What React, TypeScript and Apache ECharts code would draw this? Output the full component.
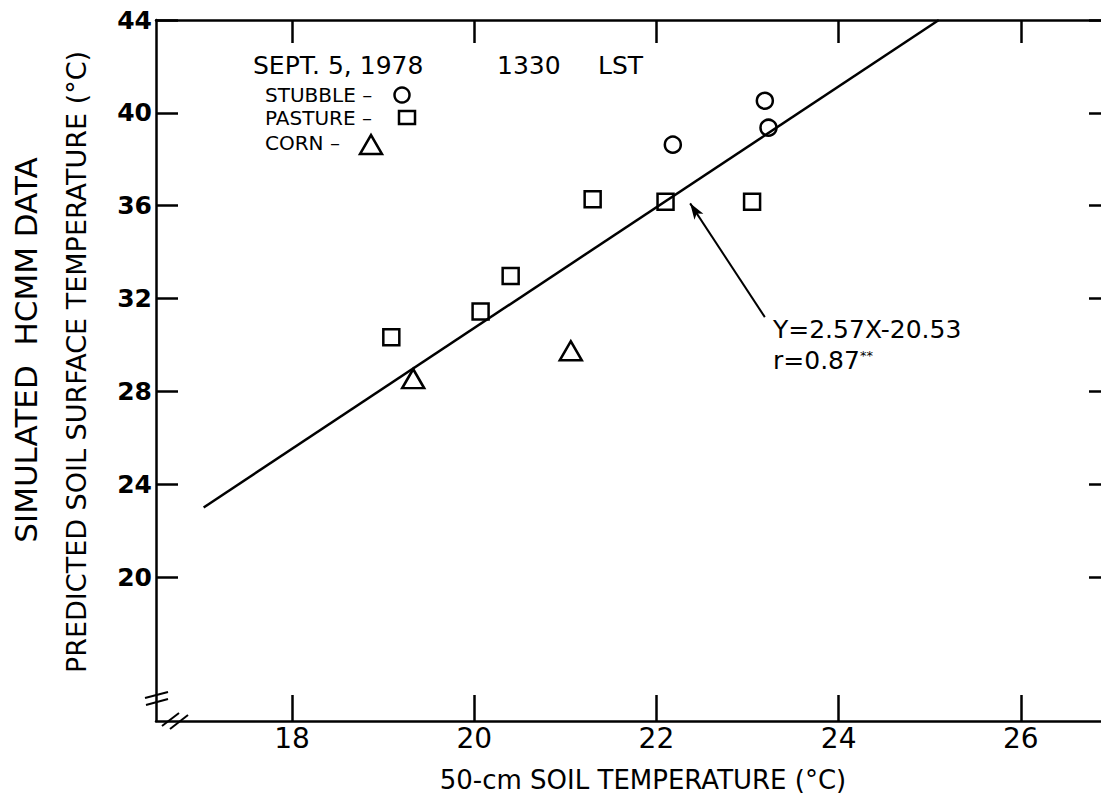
import React, { useEffect, useRef } from 'react';
import * as echarts from 'echarts';

// ---- data ----
const xTicks = [18, 20, 22, 24, 26];
const yTicks = [20, 24, 28, 32, 36, 40, 44];
const stubble = [
  [23.19, 40.52],
  [23.23, 39.36],
  [22.18, 38.63],
];
const pasture = [
  [19.09, 30.33],
  [20.07, 31.44],
  [20.4, 32.97],
  [21.3, 36.28],
  [22.1, 36.17],
  [23.05, 36.17],
];
const corn = [
  [19.33, 28.55],
  [21.06, 29.75],
];
const fitLine = [
  [17.03, 23.0],
  [25.1, 44.0],
];
const arrowFrom = [23.19, 31.2];
const arrowTo = [22.37, 36.1];

const FONT = '"DejaVu Sans", sans-serif';
const BLACK = '#000';

export default function App() {
  const ref = useRef<HTMLDivElement>(null);

  useEffect(() => {
    if (!ref.current) return;
    const chart = echarts.init(ref.current, null, { renderer: 'svg' });

    const axisLine = { show: true, lineStyle: { color: BLACK, width: 2.5 } };
    const hollow = { color: 'rgba(0,0,0,0)', borderColor: BLACK, borderWidth: 2.5, opacity: 1 };

    const option: any = {
      animation: false,
      backgroundColor: '#fff',
      grid: { left: 156, top: 20, right: 0, bottom: 75, containLabel: false },
      xAxis: [
        {
          type: 'value',
          position: 'bottom',
          min: 16.507,
          max: 26.88,
          axisLine,
          axisTick: { show: true, inside: true, length: 26, customValues: xTicks, lineStyle: { color: BLACK, width: 2.5 } },
          axisLabel: { customValues: xTicks, fontSize: 28, color: BLACK, margin: 3, fontFamily: FONT },
          splitLine: { show: false },
        },
        {
          type: 'value',
          position: 'top',
          min: 16.507,
          max: 26.88,
          axisLine,
          axisTick: { show: true, inside: true, length: 23, customValues: xTicks, lineStyle: { color: BLACK, width: 2.5 } },
          axisLabel: { show: false },
          splitLine: { show: false },
        },
      ],
      yAxis: [
        {
          type: 'value',
          position: 'left',
          min: 13.8,
          max: 44,
          axisLine,
          axisTick: { show: true, inside: true, length: 22, customValues: yTicks, lineStyle: { color: BLACK, width: 2.5 } },
          axisLabel: { customValues: yTicks, fontSize: 25, fontWeight: 'bold', color: BLACK, margin: 4, fontFamily: FONT },
          splitLine: { show: false },
        },
        {
          type: 'value',
          position: 'right',
          min: 13.8,
          max: 44,
          axisLine: { show: false },
          axisTick: { show: true, inside: true, length: 12, customValues: yTicks, lineStyle: { color: BLACK, width: 2.5 } },
          axisLabel: { show: false },
          splitLine: { show: false },
        },
      ],
      series: [
        {
          name: 'Fit',
          type: 'line',
          data: fitLine,
          symbol: 'none',
          lineStyle: { color: BLACK, width: 2.5 },
          z: 1,
          markLine: {
            silent: true,
            symbol: ['none', 'arrow'],
            symbolSize: [8, 16],
            label: { show: false },
            lineStyle: { color: BLACK, width: 2, type: 'solid' },
            data: [[{ coord: arrowFrom }, { coord: arrowTo }]],
          },
        },
        {
          name: 'STUBBLE',
          type: 'scatter',
          data: stubble,
          symbol: 'circle',
          symbolSize: 16,
          itemStyle: hollow,
          z: 3,
        },
        {
          name: 'PASTURE',
          type: 'scatter',
          data: pasture,
          symbol: 'rect',
          symbolSize: 16,
          itemStyle: hollow,
          z: 3,
        },
        {
          name: 'CORN',
          type: 'scatter',
          data: corn,
          symbol: 'triangle',
          symbolSize: [22, 19],
          itemStyle: hollow,
          z: 3,
        },
      ],
      graphic: [
        // axis titles
        {
          type: 'text',
          x: 26,
          y: 350,
          rotation: Math.PI / 2,
          style: { text: 'SIMULATED  HCMM DATA', fontSize: 31, fontFamily: FONT, fill: BLACK, align: 'center', verticalAlign: 'middle' },
        },
        {
          type: 'text',
          x: 76,
          y: 362,
          rotation: Math.PI / 2,
          style: { text: 'PREDICTED SOIL SURFACE TEMPERATURE (°C)', fontSize: 27, fontFamily: FONT, fill: BLACK, align: 'center', verticalAlign: 'middle' },
        },
        {
          type: 'text',
          x: 643,
          y: 780,
          style: { text: '50-cm SOIL TEMPERATURE (°C)', fontSize: 26, fontFamily: FONT, fill: BLACK, align: 'center', verticalAlign: 'middle' },
        },
        // header
        {
          type: 'text',
          x: 253,
          y: 65,
          style: { text: 'SEPT. 5, 1978', fontSize: 25, fontFamily: FONT, fill: BLACK, verticalAlign: 'middle' },
        },
        {
          type: 'text',
          x: 497,
          y: 65,
          style: { text: '1330', fontSize: 25, fontFamily: FONT, fill: BLACK, verticalAlign: 'middle' },
        },
        {
          type: 'text',
          x: 598,
          y: 65,
          style: { text: 'LST', fontSize: 25, fontFamily: FONT, fill: BLACK, verticalAlign: 'middle' },
        },
        // legend
        {
          type: 'text',
          x: 265,
          y: 95,
          style: { text: 'STUBBLE –', fontSize: 20, fontFamily: FONT, fill: BLACK, verticalAlign: 'middle' },
        },
        {
          type: 'text',
          x: 265,
          y: 118,
          style: { text: 'PASTURE –', fontSize: 20, fontFamily: FONT, fill: BLACK, verticalAlign: 'middle' },
        },
        {
          type: 'text',
          x: 265,
          y: 143,
          style: { text: 'CORN –', fontSize: 20, fontFamily: FONT, fill: BLACK, verticalAlign: 'middle' },
        },
        {
          type: 'circle',
          shape: { cx: 402, cy: 95, r: 7.5 },
          style: { fill: 'none', stroke: BLACK, lineWidth: 2.5 },
        },
        {
          type: 'rect',
          shape: { x: 399, y: 111, width: 16, height: 13 },
          style: { fill: 'none', stroke: BLACK, lineWidth: 2.5 },
        },
        {
          type: 'polygon',
          shape: { points: [[360, 154], [382, 154], [371, 135]] },
          style: { fill: 'none', stroke: BLACK, lineWidth: 2.5 },
        },
        // regression annotation (one text block, superscript via rich text)
        {
          type: 'text',
          x: 773,
          y: 314,
          style: {
            text: '{a|Y=2.57X-20.53}\n{a|r=0.87}{s|**}',
            verticalAlign: 'top',
            fill: BLACK,
            rich: {
              a: { fontSize: 25, lineHeight: 31, fontFamily: FONT, fill: BLACK },
              s: { fontSize: 13, lineHeight: 13, fontFamily: FONT, fill: BLACK, verticalAlign: 'middle', padding: [0, 0, 10, 0] },
            },
          },
        },
        // axis break marks
        { type: 'line', shape: { x1: 145, y1: 698, x2: 168, y2: 692 }, style: { stroke: BLACK, lineWidth: 2 } },
        { type: 'line', shape: { x1: 146, y1: 705, x2: 168, y2: 699 }, style: { stroke: BLACK, lineWidth: 2 } },
        { type: 'line', shape: { x1: 162, y1: 726, x2: 179, y2: 713 }, style: { stroke: BLACK, lineWidth: 2 } },
        { type: 'line', shape: { x1: 170, y1: 729, x2: 188, y2: 715 }, style: { stroke: BLACK, lineWidth: 2 } },
      ],
    };

    chart.setOption(option);
    return () => chart.dispose();
  }, []);

  return (
    <div
      ref={ref}
      style={{ position: 'absolute', left: 0, top: 0, width: 1101, height: 796, background: '#fff' }}
    />
  );
}
